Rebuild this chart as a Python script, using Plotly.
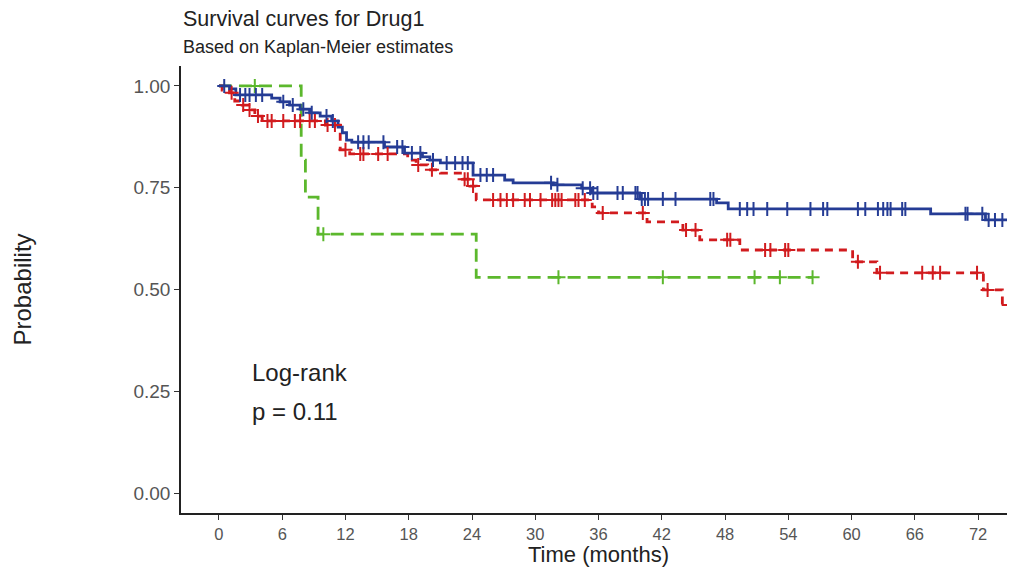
import plotly.graph_objects as go

# ---------------- data (months, survival probability) ----------------
blue_t = [0, 1.0, 1.6, 5.0, 5.8, 6.7, 7.7, 8.6, 9.6, 10.7, 11.3, 11.7, 12.1, 12.6,
          15.7, 17.6, 19.3, 20.0, 21.0, 24.1, 27.1, 27.9, 31.7, 34.4, 35.4, 39.9,
          47.2, 48.3, 67.5, 72.7, 75.6]
blue_s = [1.000, 0.993, 0.978, 0.970, 0.961, 0.953, 0.943, 0.934, 0.926, 0.914, 0.899,
          0.885, 0.867, 0.862, 0.850, 0.835, 0.826, 0.818, 0.811, 0.781, 0.769, 0.762,
          0.757, 0.749, 0.737, 0.722, 0.713, 0.698, 0.686, 0.671, 0.671]
blue_cens = [0.5, 2.0, 2.5, 2.9, 3.5, 4.1, 6.1, 7.0, 8.0, 8.8, 10.2, 10.8, 13.2, 13.7,
             14.2, 15.6, 16.9, 17.4, 18.3, 19.1, 20.3, 21.6, 22.4, 23.1, 23.6, 24.8,
             25.4, 26.0, 31.5, 32.1, 34.5, 35.2, 35.5, 35.9, 37.8, 38.3, 39.5, 39.7,
             40.1, 40.4, 40.7, 42.1, 43.3, 46.6, 46.9, 49.4, 50.1, 50.7, 52.0, 53.9,
             56.1, 57.3, 57.7, 60.6, 61.3, 62.5, 63.0, 63.4, 63.7, 64.8, 65.1, 70.8,
             71.0, 72.4, 73.0, 73.6, 74.3]

red_t = [0, 0.3, 1.0, 1.5, 2.2, 2.8, 3.4, 4.1, 10.1, 11.5, 12.4, 17.9, 18.7, 19.8,
         21.0, 23.1, 23.8, 24.4, 35.4, 36.0, 40.6, 44.0, 45.6, 49.4, 60.1, 62.4,
         72.5, 74.3, 75.6]
red_s = [1.000, 0.990, 0.983, 0.963, 0.953, 0.941, 0.926, 0.914, 0.904, 0.843, 0.833,
         0.818, 0.806, 0.794, 0.786, 0.771, 0.754, 0.720, 0.703, 0.688, 0.666, 0.646,
         0.622, 0.597, 0.568, 0.541, 0.499, 0.462, 0.462]
red_cens = [1.2, 2.3, 2.9, 3.7, 4.6, 5.0, 6.1, 7.2, 7.7, 8.6, 9.1, 10.3, 11.0, 12.0,
            13.4, 13.7, 15.1, 16.0, 18.9, 20.2, 23.3, 23.6, 24.1, 26.0, 26.7, 27.3,
            27.9, 29.0, 29.5, 30.5, 31.6, 31.9, 32.2, 32.5, 33.8, 34.1, 34.7, 36.4,
            40.2, 44.3, 45.2, 48.2, 48.5, 51.8, 52.3, 53.7, 54.0, 60.6, 62.7, 66.7,
            67.7, 68.4, 71.9, 72.9, 74.9]

green_t = [0, 7.8, 8.2, 9.4, 24.4, 56.3]
green_s = [1.000, 0.818, 0.727, 0.636, 0.530, 0.530]
green_cens = [3.4, 9.9, 32.2, 42.1, 50.8, 53.2, 56.3]

x_ticks = [0, 6, 12, 18, 24, 30, 36, 42, 48, 54, 60, 66, 72]
y_ticks = [0.00, 0.25, 0.50, 0.75, 1.00]
y_tick_text = ["0.00", "0.25", "0.50", "0.75", "1.00"]

title = "Survival curves for Drug1"
subtitle = "Based on Kaplan-Meier estimates"
logrank_lines = ["Log-rank", "p = 0.11"]
logrank_pos = [(2.9, 0.295), (2.9, 0.201)]

# ---------------- helpers ----------------
def step_at(ts, ss, t):
    val = ss[0]
    for ti, si in zip(ts, ss):
        if ti <= t:
            val = si
        else:
            break
    return val

BLUE = "#253C95"
RED = "#D11B1E"
GREEN = "#5CB82D"

fig = go.Figure()

series = [
    (green_t, green_s, green_cens, GREEN, "13px,7px"),
    (red_t, red_s, red_cens, RED, "8px,6px"),
    (blue_t, blue_s, blue_cens, BLUE, "solid"),
]
for ts, ss, cens, col, dash in series:
    fig.add_trace(go.Scatter(
        x=ts, y=ss, mode="lines", line=dict(color=col, width=2.8, dash=dash, shape="hv"),
        showlegend=False, hoverinfo="skip"))
for ts, ss, cens, col, dash in series:
    fig.add_trace(go.Scatter(
        x=cens, y=[step_at(ts, ss, c) for c in cens], mode="markers",
        marker=dict(symbol="cross-thin", size=10, line=dict(color=col, width=2)),
        showlegend=False, hoverinfo="skip"))

FONT = "Liberation Sans, Arial, sans-serif"

# page body has an 8px margin: figure is sized/offset to compensate
fig.update_layout(
    width=1007, height=562,
    margin=dict(l=173, r=0, t=58, b=57),
    paper_bgcolor="white", plot_bgcolor="white",
    font=dict(family=FONT, color="#222222"),
    xaxis=dict(range=[-3.6, 75.5], tickvals=x_ticks, ticktext=[str(v) for v in x_ticks],
               showline=True, linecolor="#222222", linewidth=1.5, ticks="outside",
               ticklen=5, tickwidth=1.2, tickcolor="#333333", showgrid=False, zeroline=False,
               ticklabelstandoff=0,
               tickfont=dict(family=FONT, size=16.5, color="#555555")),
    yaxis=dict(range=[-0.049, 1.049], tickvals=y_ticks, ticktext=y_tick_text,
               showline=True, linecolor="#222222", linewidth=1.5, ticks="outside",
               ticklen=5, tickwidth=1.2, tickcolor="#333333", showgrid=False, zeroline=False,
               tickfont=dict(family=FONT, size=19, color="#555555")),
)

annotations = [
    dict(text=title, xref="paper", yref="paper", x=0, y=1, xshift=0, yshift=66 - 19,
         xanchor="left", yanchor="middle", showarrow=False, font=dict(size=21.5, color="#222222")),
    dict(text=subtitle, xref="paper", yref="paper", x=0, y=1, xshift=0, yshift=66 - 47,
         xanchor="left", yanchor="middle", showarrow=False, font=dict(size=18, color="#222222")),
    dict(text="Probability", xref="paper", yref="paper", x=0, y=0.5, xshift=-159,
         textangle=-90, xanchor="center", yanchor="middle", showarrow=False,
         font=dict(size=24, color="#222222")),
    dict(text="Time (months)", xref="paper", yref="paper", x=0.5, y=0, yshift=-41,
         xanchor="center", yanchor="middle", showarrow=False, font=dict(size=22, color="#222222")),
]
for txt, (xx, yy) in zip(logrank_lines, logrank_pos):
    annotations.append(dict(text=txt, x=xx, y=yy, xref="x", yref="y", xanchor="left",
                            yanchor="middle", showarrow=False, font=dict(size=24, color="#222222")))
fig.update_layout(annotations=annotations)

fig.write_html("out.html")
